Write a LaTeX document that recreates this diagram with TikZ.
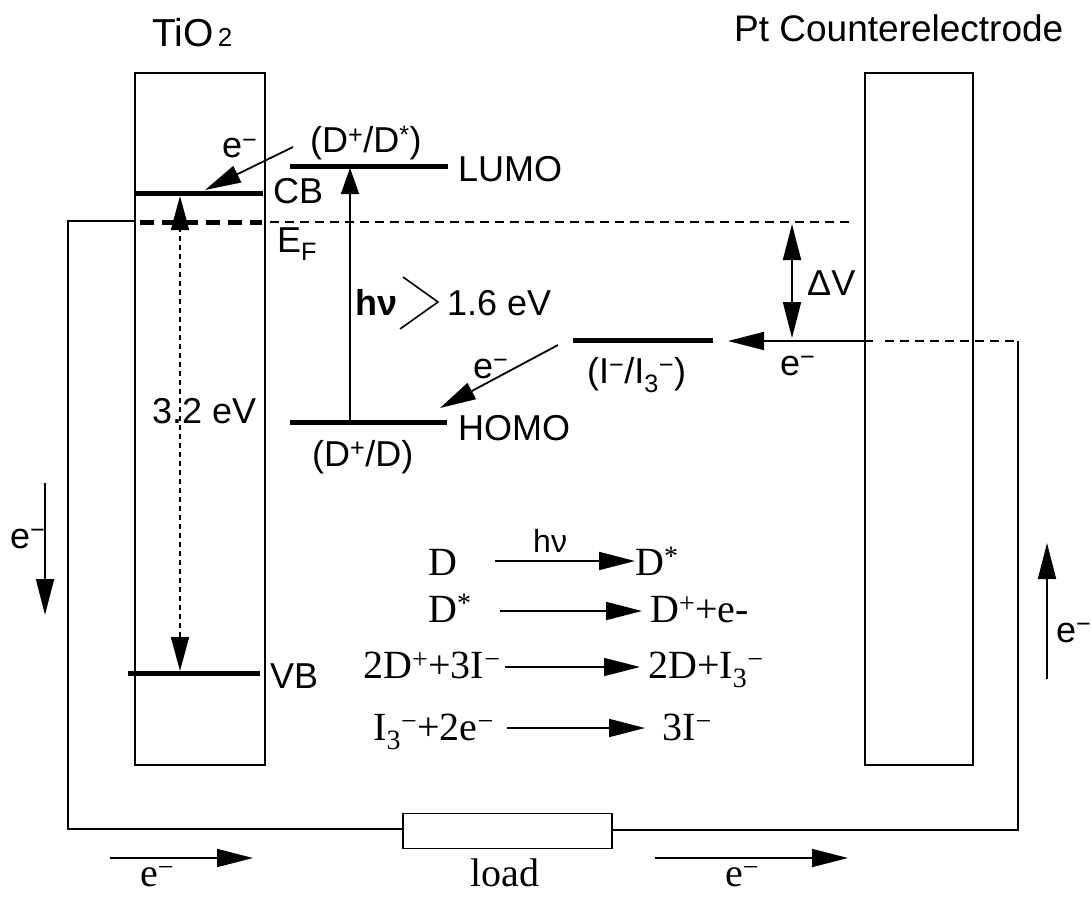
\documentclass[tikz,border=0pt]{standalone}
\usepackage{fontspec}
\setmainfont{Liberation Serif}
\newfontfamily\sansf{Liberation Sans}
\usetikzlibrary{arrows.meta}
\tikzset{
  boxl/.style={draw, line width=1.8pt},
  lvl/.style={line width=5pt},
  wire/.style={line width=1.8pt},
  ar/.style={line width=1.8pt, -{Triangle[length=36pt,width=18pt]}},
  arh/.style={line width=1.8pt, -{Triangle[length=26pt,width=18pt]}},
  dar/.style={line width=1.8pt, {Triangle[length=36pt,width=18pt]}-{Triangle[length=36pt,width=18pt]}},
  thindash/.style={line width=1.5pt, dash pattern=on 9pt off 6pt},
  lab/.style={font=\sansf\fontsize{36}{40}\selectfont, inner sep=0pt, anchor=base west},
  eqt/.style={font=\fontsize{40}{46}\selectfont, inner sep=0pt, anchor=base west},
}
\begin{document}
\begin{tikzpicture}[x=1pt,y=-1pt]
\useasboundingbox (0,0) rectangle (1091,896);
% electrodes
\draw[boxl] (135,73) rectangle (265,765);
\draw[boxl] (865,73) rectangle (973,765);
\node[lab, font=\sansf\fontsize{39}{44}\selectfont] (tio2) at (152,47) {TiO{\fontsize{26}{30}\selectfont\,2}};
\node[lab, font=\sansf\fontsize{37}{42}\selectfont] (pt) at (734,42) {Pt Counterelectrode};
% energy levels
\coordinate (cbL) at (135,193); \coordinate (cbR) at (263,193);
\coordinate (vbL) at (128,673); \coordinate (vbR) at (260,673);
\coordinate (luL) at (290,167); \coordinate (luR) at (448,167);
\coordinate (hoL) at (290,422); \coordinate (hoR) at (447,422);
\coordinate (irL) at (573,340); \coordinate (irR) at (713,340);
\draw[lvl] (cbL) -- (cbR);
\draw[lvl] (vbL) -- (vbR);
\draw[lvl] (luL) -- (luR);
\draw[lvl] (hoL) -- (hoR);
\draw[lvl] (irL) -- (irR);
% Fermi level
\coordinate (efA) at (140,222); \coordinate (efB) at (262,222);
\coordinate (efC) at (270,222); \coordinate (efD) at (853,222);
\draw[line width=5pt, dash pattern=on 14pt off 8pt] (efA) -- (efB);
\draw[thindash] (efC) -- (efD);
% labels of levels
\node[lab] (dstar) at (310,153) {(D\textsuperscript{+}/D\textsuperscript{*})};
\node[lab] (e1) at (222,158) {e\textsuperscript{−}};
\node[lab] (cb) at (273,203) {CB};
\node[lab] (ef) at (277,252) {E\textsubscript{F}};
\node[lab] (lumo) at (458,182) {LUMO};
\node[lab] (hv) at (355,315) {\textbf{hν}};
\node[lab] (ev16) at (447,315) {1.6 eV};
\node[lab] (iredox) at (587,383) {(I\textsuperscript{−}/I\textsubscript{3}\textsuperscript{−})};
\node[lab] (e2) at (473,378) {e\textsuperscript{−}};
\node[lab] (homo) at (458,440) {HOMO};
\node[lab] (dplus) at (312,466) {(D\textsuperscript{+}/D)};
\node[lab] (gap) at (152,423) {3.2 eV};
\node[lab] (vb) at (270,688) {VB};
\node[lab] (e3) at (10,548) {e\textsuperscript{−}};
\node[lab] (dv) at (807,295) {ΔV};
\node[lab] (e4) at (780,375) {e\textsuperscript{−}};
\node[lab] (e5) at (1056,642) {e\textsuperscript{−}};
% chevron
\coordinate (chA) at (403,277); \coordinate (chB) at (438,302); \coordinate (chC) at (400,329);
\draw[line width=1.6pt] (chA) -- (chB) -- (chC);
% arrows in the diagram
\coordinate (hvA) at (350,422); \coordinate (hvB) at (350,168);
\draw[arh] (hvA) -- (hvB);
\coordinate (gA) at (180,671); \coordinate (gB) at (180,196);
\draw[line width=1.8pt, dash pattern=on 5pt off 4pt, {Triangle[length=34pt,width=18pt]}-{Triangle[length=34pt,width=18pt]}] (gA) -- (gB);
\coordinate (dsA) at (293,147); \coordinate (dsB) at (205,190);
\draw[ar] (dsA) -- (dsB);
\coordinate (irA) at (558,345); \coordinate (irB) at (440,408);
\draw[ar] (irA) -- (irB);
\coordinate (dvA) at (792,224); \coordinate (dvB) at (792,338);
\draw[dar] (dvA) -- (dvB);
\coordinate (reA) at (873,341); \coordinate (reB) at (728,341);
\draw[ar] (reA) -- (reB);
\coordinate (rdA) at (885,341); \coordinate (rdB) at (1018,341);
\draw[thindash] (rdA) -- (rdB);
% external circuit
\node[draw, line width=1.8pt, minimum width=209pt, minimum height=35pt, inner sep=0pt] (load) at (507.5,831) {};
\coordinate (wRb) at (1018,830); \coordinate (wLb) at (68,829); \coordinate (wLt) at (68,221); \coordinate (wLe) at (135,221);
\draw[wire] (rdB) -- (wRb) -- (load.east |- wRb);
\draw[wire] (load.west |- wLb) -- (wLb) -- (wLt) -- (wLe);
\coordinate (ldA) at (45,483); \coordinate (ldB) at (45,615);
\draw[ar] (ldA) -- (ldB);
\coordinate (ruA) at (1047,679); \coordinate (ruB) at (1047,543);
\draw[ar] (ruA) -- (ruB);
\coordinate (b1A) at (110,858); \coordinate (b1B) at (253,858);
\draw[ar] (b1A) -- (b1B);
\coordinate (b2A) at (655,858); \coordinate (b2B) at (848,858);
\draw[ar] (b2A) -- (b2B);
\node[eqt] (eb1) at (140,886) {e\textsuperscript{−}};
\node[eqt] (loadlab) at (470,886) {load};
\node[eqt] (eb2) at (725,886) {e\textsuperscript{−}};
% reactions
\node[eqt] (r1l) at (428,575) {D};
\node[lab, font=\sansf\fontsize{32}{36}\selectfont] (r1hv) at (533,552) {hν};
\node[eqt] (r1r) at (635,575) {D\textsuperscript{*}};
\node[eqt] (r2l) at (428,622) {D\textsuperscript{*}};
\node[eqt] (r2r) at (650,622) {D\textsuperscript{+}+e-};
\node[eqt] (r3l) at (363,678) {2D\textsuperscript{+}+3I\textsuperscript{−}};
\node[eqt] (r3r) at (648,678) {2D+I\textsubscript{3}\textsuperscript{−}};
\node[eqt] (r4l) at (373,740) {I\textsubscript{3}\textsuperscript{−}+2e\textsuperscript{−}};
\node[eqt] (r4r) at (662,740) {3I\textsuperscript{−}};
\coordinate (a1A) at (495,561); \coordinate (a1B) at (635,561);
\coordinate (a2A) at (500,611); \coordinate (a2B) at (642,611);
\coordinate (a3A) at (505,667); \coordinate (a3B) at (640,667);
\coordinate (a4A) at (507,728); \coordinate (a4B) at (645,728);
\draw[ar] (a1A) -- (a1B);
\draw[ar] (a2A) -- (a2B);
\draw[ar] (a3A) -- (a3B);
\draw[ar] (a4A) -- (a4B);
\end{tikzpicture}
\end{document}
